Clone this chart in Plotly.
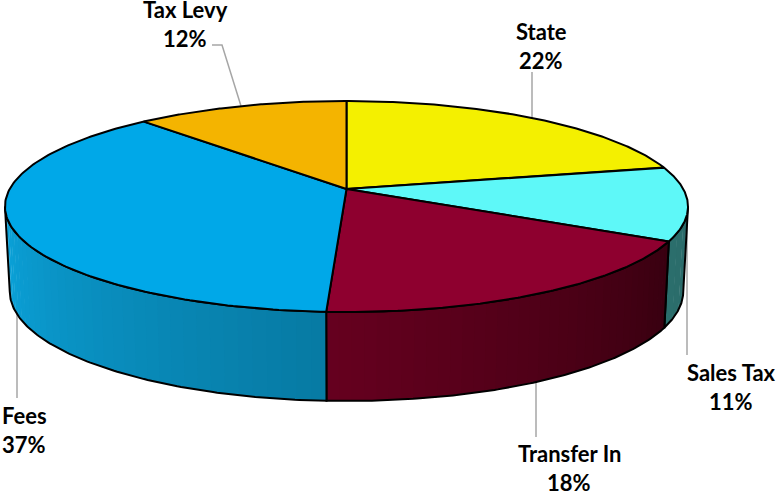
import numpy as np
import plotly.graph_objects as go

categories = ["State", "Sales Tax", "Transfer In", "Fees", "Tax Levy"]
values = [21.5, 11.3, 18.0, 37.4, 11.8]
top_colors = ["#f4f000", "#5ef8f8", "#8e002f", "#00a8e8", "#f4b400"]
side_left = ["#8f8c00", "#2b6e6c", "#66001f", "#0ba4dc", "#a07800"]
side_right = ["#8f8c00", "#2b6b6a", "#380010", "#077aa3", "#a07800"]
label_xy = [(541, 31), (731, 372), (569, 453), (24, 415), (185, 9)]
leaders = [
    [(532, 119), (532, 72)],
    [(687, 205), (687, 355)],
    [(536, 381), (536, 437)],
    [(17, 310), (17, 398)],
    [(241, 106), (222, 45), (212, 45)],
]

CX, CY, R, H, K = 346.5, 189.0, 336.8, 102.6, 0.166
total = sum(values)
edges = np.radians(np.concatenate([[0], np.cumsum(values)]) * 360 / total)


def top(t):
    w = 1 + K * np.cos(t)
    return CX + R * np.sin(t) / w, CY - H * np.cos(t) / w


def bottom(t):
    w = 1 + K * np.cos(t)
    depth = 84 - 5 * np.cos(t)
    return CX + 0.986 * R * np.sin(t) / w, CY - H * np.cos(t) / w + depth


def mix(a, b, f):
    ca = [int(a[i:i + 2], 16) for i in (1, 3, 5)]
    cb = [int(b[i:i + 2], 16) for i in (1, 3, 5)]
    return "rgb(%d,%d,%d)" % tuple(round(p + (q - p) * f) for p, q in zip(ca, cb))


fig = go.Figure()

for pts in leaders:
    fig.add_trace(go.Scatter(x=[p[0] for p in pts], y=[p[1] for p in pts], mode="lines",
                             line=dict(color="#a6a6a6", width=1.5), hoverinfo="skip"))

sil_r, sil_l = np.pi - np.arccos(K), np.pi + np.arccos(K)

for i in range(len(values)):
    a, b = max(edges[i], sil_r), min(edges[i + 1], sil_l)
    if b <= a:
        continue
    n = 36 if values[i] > 15 else 4
    st = np.linspace(a, b, n + 1)
    for j in range(n):
        tt = np.linspace(st[j], st[j + 1] + (0.006 if j < n - 1 else 0), 5)
        x1, y1 = top(tt)
        x2, y2 = bottom(tt[::-1])
        f = 1 - (j + 0.5) / n
        fig.add_trace(go.Scatter(x=np.r_[x1, x2], y=np.r_[y1, y2], mode="lines", fill="toself",
                                 fillcolor=mix(side_left[i], side_right[i], f),
                                 line=dict(width=0), hoverinfo="skip"))
    tt = np.linspace(a, b, 120)
    x1, y1 = top(tt)
    x2, y2 = bottom(tt[::-1])
    fig.add_trace(go.Scatter(x=np.r_[x1, x2, x1[0]], y=np.r_[y1, y2, y1[0]], mode="lines",
                             line=dict(color="#000000", width=2), hoverinfo="skip"))

for i in range(len(values)):
    tt = np.linspace(edges[i], edges[i + 1], 160)
    x, y = top(tt)
    fig.add_trace(go.Scatter(x=np.r_[CX, x, CX], y=np.r_[CY, y, CY], mode="lines", fill="toself",
                             fillcolor=top_colors[i], line=dict(color="#000000", width=2),
                             hoverinfo="skip"))

annots = []
for name, val, (lx, ly) in zip(categories, values, label_xy):
    pct = f"{int(val / total * 100 + 0.5)}%"
    for k, txt in enumerate((name, pct)):
        annots.append(dict(x=lx, y=ly + 29 * k, text=f"<b>{txt}</b>", showarrow=False,
                           xanchor="center", yanchor="middle",
                           font=dict(family="Lato", size=22, color="#000000", weight=800)))

fig.update_layout(width=778, height=493, margin=dict(l=0, r=0, t=0, b=0), showlegend=False,
                  paper_bgcolor="#ffffff", plot_bgcolor="#ffffff", annotations=annots,
                  xaxis=dict(range=[0, 778], visible=False, fixedrange=True),
                  yaxis=dict(range=[493, 0], visible=False, fixedrange=True))
fig.write_html("out.html", config=dict(displayModeBar=False),
               post_script="document.body.style.margin='0';document.documentElement.style.overflow='hidden';")
